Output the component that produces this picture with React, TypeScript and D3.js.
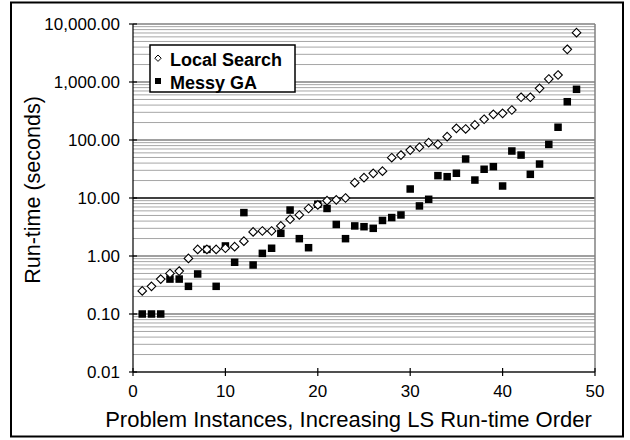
import React from "react";
import * as d3 from "d3";

const instances = d3.range(1, 49);
const localSearch = [
  0.25, 0.3, 0.4, 0.5, 0.55, 0.91, 1.3, 1.3, 1.3, 1.36, 1.45, 1.8, 2.6, 2.7, 2.7, 3.3,
  4.3, 5.1, 6.6, 7.6, 9.0, 9.3, 10.0, 18.4, 22.4, 26.6, 29, 49.5, 55, 67, 75, 90,
  84, 114, 159, 155, 182, 228, 277, 288, 329, 545, 545, 778, 1128, 1321, 3663, 7080,
];
const messyGA = [
  0.1, 0.1, 0.1, 0.4, 0.4, 0.3, 0.49, 1.3, 0.3, 1.49, 0.78, 5.6, 0.7, 1.11, 1.36, 2.46,
  6.2, 1.99, 1.39, 7.8, 6.6, 3.5, 1.99, 3.3, 3.2, 3.0, 4.1, 4.6, 5.1, 14.3, 7.3, 9.5,
  24.3, 23.3, 26.7, 47, 20.4, 31.3, 34.7, 16.1, 64.6, 55, 25.6, 38.5, 84, 166, 457, 748,
];
const xTicks = [0, 10, 20, 30, 40, 50];
const yTicks = [0.01, 0.1, 1, 10, 100, 1000, 10000];
const seriesNames = ["Local Search", "Messy GA"];
const xTitle = "Problem Instances, Increasing LS Run-time Order";
const yTitle = "Run-time (seconds)";

const FONT = "'Liberation Sans', Arial, sans-serif";

export default function App() {
  const x = d3.scaleLinear().domain([0, 50]).range([133, 595]);
  const y = d3.scaleLog().domain([0.01, 10000]).range([372, 24]);
  const fmt = d3.format(",.2f");

  const minor: number[] = [];
  for (let e = -2; e < 4; e++) {
    for (let m = 2; m <= 9; m++) minor.push(m * Math.pow(10, e));
  }

  const [x0, x1] = x.range();
  const [yb, yt] = y.range();

  return (
    <svg
      width={630}
      height={440}
      style={{ position: "absolute", left: 0, top: 0, background: "#fff" }}
      fontFamily={FONT}
    >
      <rect x={0} y={0} width={630} height={440} fill="#fff" />
      <rect x={11} y={2.5} width={612} height={434} fill="none" stroke="#000" strokeWidth={2} />

      {/* minor gridlines */}
      {minor.map((v, i) => (
        <line key={"m" + i} x1={x0} x2={x1} y1={y(v)} y2={y(v)} stroke="#a6a6a6" strokeWidth={1} />
      ))}
      {/* major gridlines */}
      {yTicks.map((v, i) => (
        <line
          key={"g" + i}
          x1={x0}
          x2={x1}
          y1={y(v)}
          y2={y(v)}
          stroke={v === 10 ? "#000" : "#808080"}
          strokeWidth={1.5}
        />
      ))}
      {/* right border */}
      <line x1={x1} x2={x1} y1={yt} y2={yb} stroke="#808080" strokeWidth={1.5} />

      {/* axes */}
      <line x1={x0} x2={x0} y1={yt} y2={yb} stroke="#000" strokeWidth={1.2} />
      <line x1={x0} x2={x1} y1={yb} y2={yb} stroke="#000" strokeWidth={1.2} />
      {yTicks.map((v, i) => (
        <g key={"yt" + i}>
          <line x1={x0 - 4} x2={x0 + 4} y1={y(v)} y2={y(v)} stroke="#000" strokeWidth={1.2} />
          <text x={120} y={y(v) + 6} textAnchor="end" fontSize={17} fill="#000">
            {fmt(v)}
          </text>
        </g>
      ))}
      {xTicks.map((v, i) => (
        <g key={"xt" + i}>
          <line x1={x(v)} x2={x(v)} y1={yb - 4} y2={yb + 4} stroke="#000" strokeWidth={1.2} />
          <text x={x(v)} y={yb + 25} textAnchor="middle" fontSize={17} fill="#000">
            {v}
          </text>
        </g>
      ))}

      {/* series */}
      {messyGA.map((v, i) => (
        <rect
          key={"s" + i}
          x={x(instances[i]) - 3.75}
          y={y(v) - 3.75}
          width={7.5}
          height={7.5}
          fill="#000"
        />
      ))}
      {localSearch.map((v, i) => {
        const cx = x(instances[i]);
        const cy = y(v);
        const r = 4.3;
        return (
          <path
            key={"d" + i}
            d={`M${cx},${cy - r}L${cx + r},${cy}L${cx},${cy + r}L${cx - r},${cy}Z`}
            fill="#fff"
            stroke="#000"
            strokeWidth={1.1}
          />
        );
      })}

      {/* legend */}
      <rect x={150} y={45} width={145} height={47} fill="#fff" stroke="#000" strokeWidth={1.5} />
      <path d="M158,55 L161.2,58.2 L158,61.4 L154.8,58.2 Z" fill="#fff" stroke="#000" strokeWidth={1} />
      <text x={170} y={66} fontSize={18} fontWeight="bold" fill="#000">
        {seriesNames[0]}
      </text>
      <rect x={155} y={78} width={6} height={6} fill="#000" />
      <text x={170} y={89} fontSize={18} fontWeight="bold" fill="#000">
        {seriesNames[1]}
      </text>

      {/* titles */}
      <text x={348.5} y={427} textAnchor="middle" fontSize={22} fill="#000">
        {xTitle}
      </text>
      <text
        transform={`translate(40, 190) rotate(-90)`}
        textAnchor="middle"
        fontSize={21.5}
        fill="#000"
      >
        {yTitle}
      </text>
    </svg>
  );
}
